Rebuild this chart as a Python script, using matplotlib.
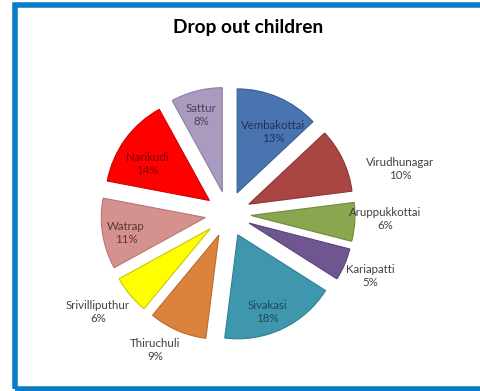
import matplotlib.pyplot as plt
import numpy as np
from matplotlib.patches import Rectangle

# data (clockwise from 12 o'clock)
towns = ['Vembakottai', 'Virudhunagar', 'Aruppukkottai', 'Kariapatti', 'Sivakasi',
         'Thiruchuli', 'Srivilliputhur', 'Watrap', 'Narikudi', 'Sattur']
share = [13, 10, 6, 5, 18, 9, 6, 11, 14, 8]

colors = ['#4A74B0', '#A94542', '#8AA64E', '#6F5690', '#3F97AE',
          '#DB833C', '#FFFF00', '#D4918E', '#FF0000', '#A99BC0']
edges = ['#3A5F95', '#8C3533', '#6F8A3A', '#5A4478', '#2F7F94',
         '#B86A2C', '#C8C800', '#B57673', '#D00000', '#8D80A5']
text_cols = ['#1E3457', '#404040', '#404040', '#404040', '#1C4A57',
             '#404040', '#404040', '#5A3534', '#7A0000', '#4A405A']

# label placement (pixel offset from pie centre, y up)
label_dx = [45, 172, 157, 142, 39, -73, -130, -102, -81, -27]
label_dy = [82, 45, -5, -62, -98, -136, -98, -19, 50, 99]

W, H = 480, 391
fig = plt.figure(figsize=(W / 100, H / 100), dpi=100)
ax = fig.add_axes([0, 0, 1, 1])

cx, cy = 228, H - 214
r = 104
wedges, _ = ax.pie(share, colors=colors, startangle=90, counterclock=False,
                   explode=[23] * len(share), radius=r, center=(cx, cy),
                   wedgeprops=dict(linewidth=0.8))
for w, ec in zip(wedges, edges):
    w.set_edgecolor(ec)

ax.set_xlim(0, W)
ax.set_ylim(0, H)
ax.set_aspect('equal')
ax.axis('off')

for name, s, dx, dy, tc in zip(towns, share, label_dx, label_dy, text_cols):
    ax.text(cx + dx, cy + dy, f'{name}\n{s}%', ha='center', va='center',
            fontsize=8.3, color=tc, family='Lato', linespacing=1.2)

ax.text(248, H - 28, 'Drop out children', ha='center', va='center',
        fontsize=13.8, fontweight='bold', family='Lato', color='black')

# blue frame
fig.patches.append(Rectangle((14.5 / W, 2.5 / H), 1.0, (H - 7) / H,
                             transform=fig.transFigure, fill=False,
                             edgecolor='#0A7BC8', linewidth=4, zorder=10))

fig.savefig('out.png', dpi=100)
